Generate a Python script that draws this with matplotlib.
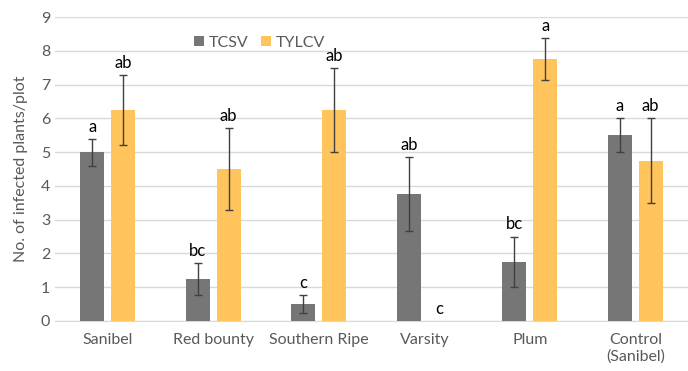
import numpy as np
import matplotlib
matplotlib.use('Agg')
import matplotlib.pyplot as plt

plt.rcParams['font.family'] = ['Lato', 'DejaVu Sans']

categories = ['Sanibel', 'Red bounty', 'Southern Ripe', 'Varsity', 'Plum', 'Control\n(Sanibel)']
tcsv = [5.0, 1.25, 0.5, 3.75, 1.75, 5.5]
tcsv_err = [0.4, 0.47, 0.28, 1.1, 0.75, 0.5]
tylcv = [6.25, 4.5, 6.25, 0.0, 7.75, 4.75]
tylcv_err = [1.03, 1.2, 1.25, 0.0, 0.62, 1.25]
tcsv_letters = ['a', 'bc', 'c', 'ab', 'bc', 'a']
tylcv_letters = ['ab', 'ab', 'ab', 'c', 'a', 'ab']

GRAY = '#767676'
GOLD = '#FFC55C'
TXT = '#595959'

fig = plt.figure(figsize=(6.88, 3.71), dpi=100)
ax = fig.add_axes([0.08, 0.135, 0.92, 0.819])

x = np.arange(len(categories))
w = 0.227
off = (w + 0.066) / 2
ekw = dict(ecolor='#404040', elinewidth=1.0, capsize=3, capthick=1.0)
ax.bar(x - off, tcsv, w, color=GRAY, label='TCSV', zorder=3,
       yerr=tcsv_err, error_kw=ekw)
ax.bar(x + off, tylcv, w, color=GOLD, label='TYLCV', zorder=3,
       yerr=[e if e > 0 else np.nan for e in tylcv_err], error_kw=ekw)

for i in range(len(categories)):
    ax.text(x[i] - off, tcsv[i] + tcsv_err[i] + 0.12, tcsv_letters[i],
            ha='center', va='bottom', fontsize=12, color='black')
    ax.text(x[i] + off, tylcv[i] + tylcv_err[i] + 0.12, tylcv_letters[i],
            ha='center', va='bottom', fontsize=12, color='black')

ax.set_xlim(-0.5, len(categories) - 0.5)
ax.set_ylim(0, 9)
ax.set_yticks(range(10))
ax.yaxis.grid(True, color='#d9d9d9', linewidth=1.0, zorder=0)
ax.set_axisbelow(True)
for s in ['top', 'right', 'left']:
    ax.spines[s].set_visible(False)
ax.spines['bottom'].set_color('#d9d9d9')
ax.tick_params(axis='both', length=0, colors=TXT, labelsize=11.5)
ax.tick_params(axis='x', pad=9)
ax.set_xticks(x)
ax.set_xticklabels(categories, linespacing=1.2)
ax.set_ylabel('No. of infected plants/plot', color=TXT, fontsize=11.5, labelpad=9)

ax.legend(loc='upper left', bbox_to_anchor=(0.197, 0.985), ncol=2, frameon=False,
          fontsize=11.5, labelcolor=TXT, handlelength=0.6, handleheight=0.6,
          columnspacing=0.8, handletextpad=0.3)

fig.savefig('out.png', dpi=100)
